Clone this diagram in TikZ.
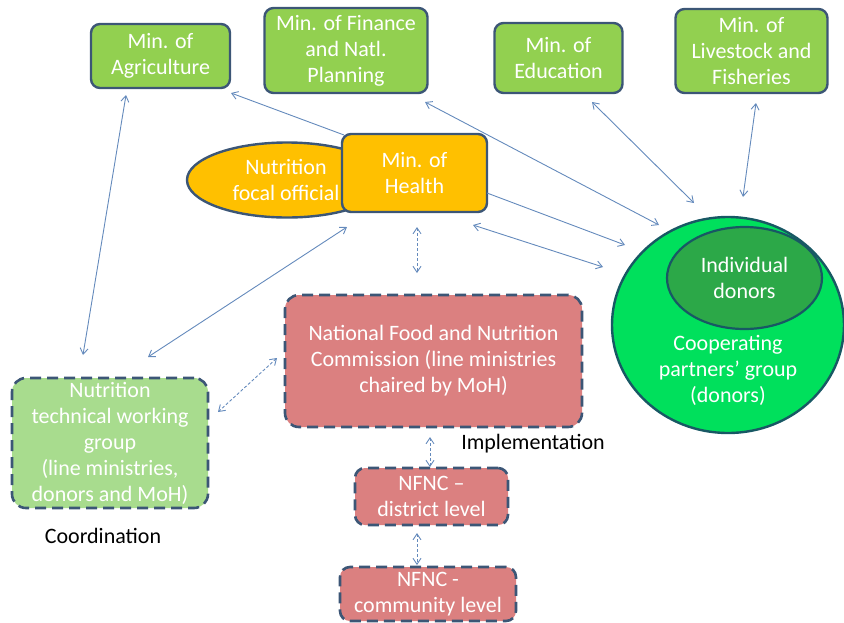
\documentclass[tikz,border=0pt]{standalone}
\usepackage{fontspec}
\setmainfont{Carlito}
\usetikzlibrary{shapes.geometric,arrows.meta}
\definecolor{bord}{RGB}{60,86,118}
\definecolor{mingreen}{RGB}{146,208,80}
\definecolor{mohorange}{RGB}{255,192,0}
\definecolor{nfcpink}{RGB}{219,128,128}
\definecolor{ntwggreen}{RGB}{168,220,142}
\definecolor{coopgreen}{RGB}{0,224,92}
\definecolor{indgreen}{RGB}{44,168,72}
\definecolor{coopbord}{RGB}{24,88,100}
\definecolor{arr}{RGB}{100,138,188}
\tikzset{
  txt/.style={font=\fontsize{22}{26}\selectfont, text=white, align=center},
  minbox/.style={txt, draw=bord, line width=2.4pt, fill=mingreen, rounded corners=9pt, inner sep=0pt},
  dashbox/.style={txt, draw=bord, line width=2.6pt, dash pattern=on 11pt off 6pt, rounded corners=14pt, inner sep=0pt},
  conn/.style={draw=arr, line width=0.9pt, {Straight Barb[length=6pt,width=8pt]}-{Straight Barb[length=6pt,width=8pt]}},
  conn1/.style={draw=arr, line width=0.9pt, -{Straight Barb[length=6pt,width=8pt]}},
  dconn/.style={conn, dash pattern=on 3pt off 2pt},
  blacktxt/.style={font=\fontsize{22}{26}\selectfont, text=black}
}
\begin{document}
\begin{tikzpicture}[x=1pt,y=-1pt]
\useasboundingbox (0,0) rectangle (844,622);
% top ministries
\node[minbox, minimum width=139pt, minimum height=64pt] (agri) at (160.5,56) {Min. of\\Agriculture};
\node[minbox, minimum width=163pt, minimum height=85pt] (fin) at (346,50.5) {Min. of Finance\\and Natl.\\Planning};
\node[minbox, minimum width=128pt, minimum height=70pt] (edu) at (558.5,58) {Min. of\\Education};
\node[minbox, minimum width=152pt, minimum height=84pt] (live) at (751.5,51) {Min. of\\Livestock and\\Fisheries};
% health
\node[ellipse, draw=bord, line width=2.4pt, fill=mohorange, minimum width=200pt, minimum height=75pt, inner sep=0pt] (focal) at (287,180) {};
\node[txt] (focaltxt) at (286,180) {Nutrition\\focal official};
\node[minbox, fill=mohorange, minimum width=145pt, minimum height=78pt] (moh) at (414.5,173) {Min. of\\Health};
% donors
\node[ellipse, draw=coopbord, line width=2.4pt, fill=coopgreen, minimum width=232pt, minimum height=216pt, inner sep=0pt] (coop) at (728,325) {};
\node[ellipse, draw=coopbord, line width=2.2pt, fill=indgreen, minimum width=155pt, minimum height=102pt, inner sep=0pt] (ind) at (744.5,278) {};
\node[txt] (indtxt) at (744.5,278) {Individual\\donors};
\node[txt] (cooptxt) at (728,370) {Cooperating\\partners’ group\\(donors)};
% commissions
\node[dashbox, fill=nfcpink, minimum width=297pt, minimum height=132pt] (nfc) at (433.5,361) {National Food and Nutrition\\Commission (line ministries\\chaired by MoH)};
\node[dashbox, fill=ntwggreen, minimum width=196pt, minimum height=130pt] (ntwg) at (110,443) {Nutrition\\technical working\\group\\(line ministries,\\donors and MoH)};
\node[dashbox, fill=nfcpink, rounded corners=10pt, minimum width=153pt, minimum height=57pt] (dist) at (431.5,496.5) {NFNC –\\district level};
\node[dashbox, fill=nfcpink, rounded corners=10pt, minimum width=176pt, minimum height=54pt] (comm) at (428,594) {NFNC -\\community level};
\node[blacktxt] (impl) at (533,444) {Implementation};
\node[blacktxt] (coord) at (103,536) {Coordination};
% connector end points
\coordinate (a1) at (126,95);  \coordinate (a2) at (83,355);
\coordinate (b1) at (344,135); \coordinate (b2) at (231,93);
\coordinate (c1) at (425,102); \coordinate (c2) at (659,225);
\coordinate (d1) at (592,102); \coordinate (d2) at (694,203);
\coordinate (e1) at (756,103); \coordinate (e2) at (743,197);
\coordinate (f1) at (487,193); \coordinate (f2) at (625,245);
\coordinate (g1) at (473,225); \coordinate (g2) at (603,267);
\coordinate (h1) at (347,227); \coordinate (h2) at (148,357);
\coordinate (i1) at (417,227); \coordinate (i2) at (417,273);
\coordinate (j1) at (277,358); \coordinate (j2) at (218,412);
\coordinate (k1) at (430,437); \coordinate (k2) at (430,467);
\coordinate (l1) at (417,533); \coordinate (l2) at (417,565);
\draw[conn] (a1) -- (a2);
\draw[conn1] (b1) -- (b2);
\draw[conn] (c1) -- (c2);
\draw[conn] (d1) -- (d2);
\draw[conn] (e1) -- (e2);
\draw[conn1] (f1) -- (f2);
\draw[conn] (g1) -- (g2);
\draw[conn] (h1) -- (h2);
\draw[dconn] (i1) -- (i2);
\draw[dconn] (j1) -- (j2);
\draw[dconn] (k1) -- (k2);
\draw[dconn] (l1) -- (l2);
\end{tikzpicture}
\end{document}
